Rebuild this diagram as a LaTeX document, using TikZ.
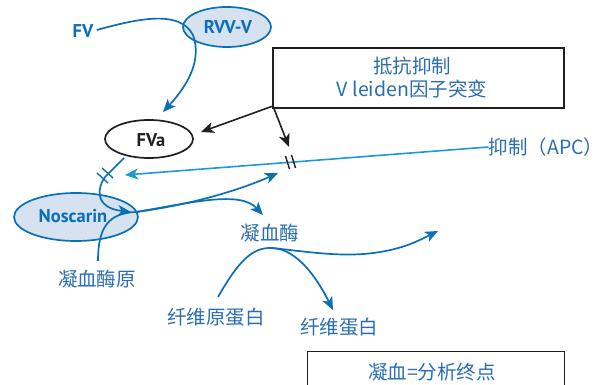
\documentclass[tikz,border=0pt]{standalone}
\usepackage{fontspec}
\newfontfamily\cjk{Noto Sans CJK SC}
\newfontfamily\lab{PT Sans}
\usetikzlibrary{arrows.meta,shapes.geometric}
\definecolor{dblue}{HTML}{0B6FB8}
\definecolor{lblue}{HTML}{1C9AD6}
\definecolor{efill}{HTML}{D6E2F0}
\definecolor{tblue}{HTML}{2A6EB2}
\definecolor{bgray}{HTML}{231F20}
\tikzset{
  bl/.style={draw=dblue,line width=1.7pt},
  blarr/.style={bl,-{Stealth[length=13pt,width=11pt,inset=3.5pt]}},
  lbarr/.style={draw=lblue,line width=1.6pt,-{Stealth[length=13pt,width=11pt,inset=3.5pt]}},
  karr/.style={draw=bgray,line width=1.6pt,-{Stealth[length=13pt,width=11pt,inset=3.5pt]}},
  ell/.style={ellipse,draw=dblue,line width=1.7pt,fill=efill,inner sep=0pt},
  lbl/.style={font=\lab\bfseries\fontsize{18.5}{18.5}\selectfont,text=dblue},
  ctxt/.style={font=\cjk\fontsize{19.5}{23}\selectfont,text=tblue,inner sep=0pt},
  tbox/.style={draw=bgray,line width=1.2pt,fill=white}
}
\begin{document}
\begin{tikzpicture}[x=1pt,y=-1pt]
\useasboundingbox (0,0) rectangle (614,385);
\clip (0,0) rectangle (614,385);
% ellipses
\node[ell,minimum width=88pt,minimum height=40pt] (rvv) at (227,27) {};
\node[ell,minimum width=124pt,minimum height=48pt] (nos) at (76,217) {};
\node[ellipse,draw=bgray,line width=1.7pt,fill=white,minimum width=88pt,minimum height=38pt,inner sep=0pt] (fva) at (149,139) {};
% boxes
\node[tbox,minimum width=291pt,minimum height=60pt] (box1) at (418.5,78) {};
\node[tbox,minimum width=257pt,minimum height=50pt,anchor=north west] (box2) at (307,351) {};
% labels
\node[lbl] (fv) at (83,31) {FV};
\node[lbl] (rvvt) at (228,27) {RVV-V};
\node[lbl,text=bgray] (fvat) at (151,140) {FVa};
\node[lbl] (nost) at (73,216) {Noscarin};
\node[ctxt,align=center] (b1t) at (412,78) {抵抗抑制\\V leiden因子突变};
\node[ctxt] (apc) at (546,147) {抑制（APC）};
\node[ctxt] (prothr) at (97,279) {凝血酶原};
\node[ctxt] (thr) at (270,233) {凝血酶};
\node[ctxt] (fgn) at (216,317) {纤维原蛋白};
\node[ctxt] (fbn) at (339,327) {纤维蛋白};
\node[ctxt] (b2t) at (432,372) {凝血=分析终点};
% coordinates
\coordinate (c1) at (273,106);
\coordinate (t1) at (163,112);
\coordinate (fvaarr) at (201,132);
\coordinate (hk) at (289,147);
\coordinate (apcarr) at (125,175);
\coordinate (nosarr) at (131,212);
\coordinate (split) at (136,212);
\coordinate (up) at (278,173);
\coordinate (thrarr) at (263,215);
\coordinate (peak) at (272,248);
\coordinate (fbnarr) at (333,310);
\coordinate (farr) at (438,231);
% FV -> FVa via RVV-V
\draw[blarr] (fv.east) ++(0,-1) .. controls (140,18) and (180,10) .. (193,35) .. controls (202,60) and (188,85) .. (t1);
% black arrows
\draw[karr] (c1) -- (fvaarr);
\draw[karr] (c1) -- (hk);
% APC line
\draw[lbarr] (apc.west) -- (apcarr);
% black hash
\draw[bgray,line width=1.4pt] (285.5,156) -- (289.5,169);
\draw[bgray,line width=1.4pt] (291.5,155) -- (295.5,168);
% FVa -> Noscarin
\draw[blarr] (124,158) -- (106,176) .. controls (96,188) and (95,208) .. (nosarr);
\draw[dblue,line width=1.4pt] (97,173) -- (108,183);
\draw[dblue,line width=1.4pt] (102,168) -- (113,178);
% prothrombin path
\draw[bl] (98,261) .. controls (98,228) and (108,213) .. (split);
\draw[blarr] (split) .. controls (190,205) and (240,190) .. (up);
\draw[blarr] (split) .. controls (190,203) and (240,190) .. (thrarr);
% fibrinogen
\draw[bl] (218,297) .. controls (238,262) and (252,247) .. (peak);
\draw[blarr] (peak) .. controls (298,249) and (318,280) .. (fbnarr);
\draw[blarr] (peak) .. controls (310,252) and (345,258) .. (380,252) .. controls (405,248) and (420,240) .. (farr);
\end{tikzpicture}
\end{document}
